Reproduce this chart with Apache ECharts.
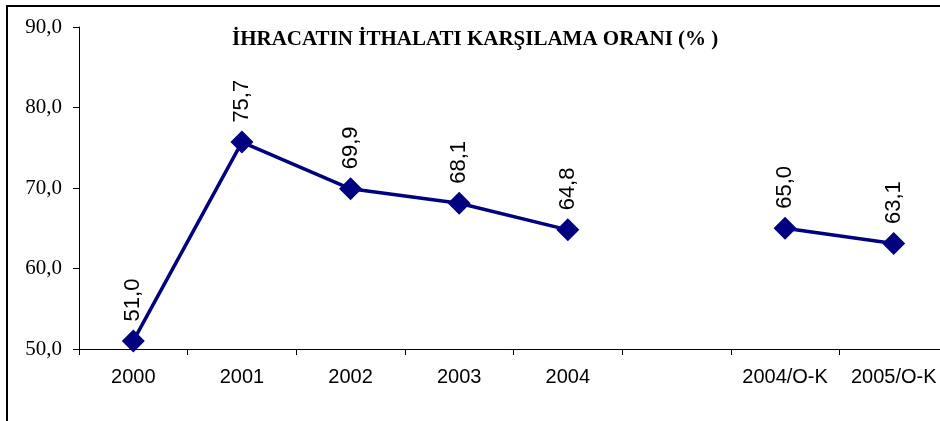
<!DOCTYPE html>
<html>
<head>
<meta charset="utf-8">
<script src="https://cdn.jsdelivr.net/npm/echarts@6/dist/echarts.min.js"></script>
<style>
  html, body { margin: 0; padding: 0; background: #fff; }
  #chart { width: 940px; height: 421px; }
</style>
</head>
<body>
<div id="chart"></div>
<script>
// Yıllar ve oranlar (boş kategori çizgide boşluk bırakır)
var categories = ['2000', '2001', '2002', '2003', '2004', '', '2004/O-K', '2005/O-K'];
var coverageRatio = [51.0, 75.7, 69.9, 68.1, 64.8, null, 65.0, 63.1];
var yTicks = [50, 60, 70, 80, 90];

var chart = echarts.init(document.getElementById('chart'));

function fmt(v) {
    return v.toFixed(1).replace('.', ',');
}

var option = {
    backgroundColor: '#fff',
    animation: false,
    title: {
        text: 'İHRACATIN İTHALATI KARŞILAMA ORANI (% )',
        left: 232,
        top: 29,
        padding: 0,
        textStyle: {
            fontFamily: 'Liberation Serif',
            fontWeight: 'bold',
            fontSize: 21,
            color: '#000'
        }
    },
    graphic: [{
        type: 'rect',
        shape: { x: 7, y: 6, width: 1200, height: 1000 },
        style: { fill: 'none', stroke: '#000', lineWidth: 2 },
        silent: true
    }],
    grid: {
        left: 79,
        width: 869,
        top: 27,
        bottom: 72,
        containLabel: false,
        outerBoundsMode: 'none'
    },
    xAxis: {
        type: 'category',
        data: categories,
        boundaryGap: true,
        axisLine: { lineStyle: { color: '#000', width: 1 } },
        axisTick: { show: true, interval: 0, length: 6, lineStyle: { color: '#000' } },
        axisLabel: {
            interval: 0,
            margin: 18,
            fontFamily: 'Liberation Sans',
            fontSize: 20,
            color: '#000'
        },
        splitLine: { show: false }
    },
    yAxis: {
        type: 'value',
        min: yTicks[0],
        max: yTicks[yTicks.length - 1],
        interval: 10,
        axisLine: { show: true, lineStyle: { color: '#000', width: 1 } },
        axisTick: { show: true, length: 6, lineStyle: { color: '#000' } },
        axisLabel: {
            margin: 17,
            fontFamily: 'Liberation Serif',
            fontSize: 21,
            color: '#000',
            formatter: fmt
        },
        splitLine: { show: false }
    },
    series: [{
        type: 'line',
        data: coverageRatio,
        connectNulls: false,
        symbol: 'diamond',
        symbolSize: 23,
        lineStyle: { color: '#000080', width: 3.5 },
        itemStyle: { color: '#000080' },
        label: {
            show: true,
            position: 'top',
            distance: 8,
            rotate: 90,
            align: 'left',
            verticalAlign: 'middle',
            fontFamily: 'Liberation Sans',
            fontSize: 22,
            color: '#000',
            formatter: function (p) { return fmt(p.value); }
        }
    }]
};

chart.setOption(option);
</script>
</body>
</html>
